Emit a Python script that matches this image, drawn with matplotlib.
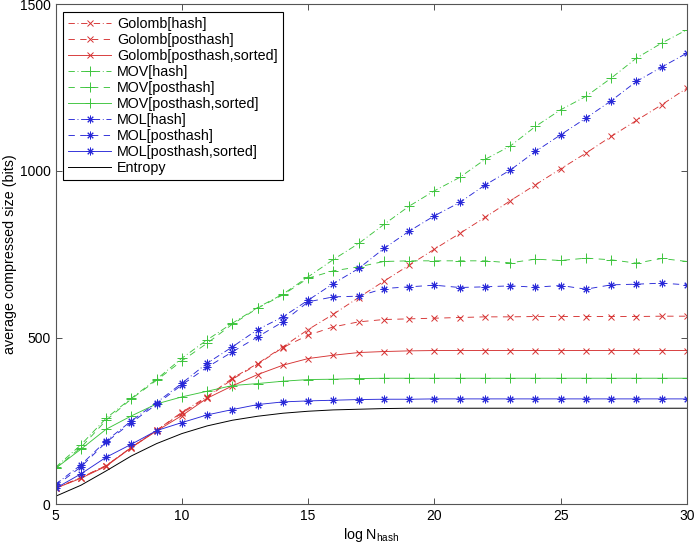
import matplotlib
matplotlib.use("Agg")
import matplotlib.pyplot as plt

plt.rcParams['font.family'] = ['Liberation Sans', 'DejaVu Sans']

x = list(range(5, 31))

golomb_hash = [48, 80, 116, 171, 222, 276, 323, 378, 422, 472, 524, 570, 620, 669, 717, 765,
               812, 860, 910, 958, 1006, 1053, 1103, 1151, 1198, 1248]
golomb_posthash = [48, 80, 116, 170, 222, 273, 320, 375, 420, 470, 507, 532, 547, 554, 556, 558,
                   560, 562, 562, 563, 563, 563, 563, 563, 564, 564]
golomb_sorted = [48, 78, 114, 170, 220, 266, 318, 355, 389, 417, 437, 447, 455, 458, 460, 461,
                 461, 461, 461, 461, 461, 461, 461, 461, 461, 461]
mov_hash = [111, 178, 258, 318, 375, 438, 493, 543, 590, 630, 682, 734, 782, 839, 894, 940,
            980, 1034, 1074, 1133, 1183, 1223, 1278, 1338, 1383, 1423]
mov_posthash = [108, 170, 252, 316, 372, 430, 483, 540, 588, 628, 678, 700, 712, 728, 730, 730,
                730, 730, 724, 735, 731, 738, 733, 723, 737, 728]
mov_sorted = [108, 165, 225, 265, 301, 322, 339, 356, 362, 369, 374, 375, 377, 378, 378, 378,
              378, 378, 378, 378, 378, 378, 378, 378, 378, 378]
mol_hash = [60, 118, 190, 250, 305, 363, 423, 472, 524, 562, 612, 662, 707, 767, 819, 865,
            905, 957, 1002, 1058, 1108, 1158, 1210, 1268, 1311, 1353]
mol_posthash = [55, 112, 186, 245, 300, 358, 411, 457, 502, 547, 607, 622, 624, 647, 652, 657,
                650, 652, 655, 651, 656, 645, 658, 660, 663, 658]
mol_sorted = [48, 91, 141, 180, 221, 245, 268, 284, 299, 307, 310, 312, 314, 315, 315, 316,
              316, 316, 316, 316, 316, 316, 316, 316, 316, 316]
entropy = [24, 57, 100, 145, 182, 212, 235, 252, 264, 273, 279, 283, 285, 287, 288, 288,
           288, 288, 288, 288, 288, 288, 288, 288, 288, 288]

red = '#d63232'
green = '#3cc43c'
blue = '#2828d8'

fig = plt.figure(figsize=(6.95, 5.43), dpi=100)
ax = fig.add_axes([0.08, 0.0713, 0.9085, 0.9213])

star = (8, 2, 0)
lw = 0.65
dashdot = (0, (7, 3, 1, 3))
dashed = (0, (7, 6))
series = [
    (golomb_hash, red, dashdot, 'x', 'Golomb[hash]', 4.6),
    (golomb_posthash, red, dashed, 'x', 'Golomb[posthash]', 4.6),
    (golomb_sorted, red, '-', 'x', 'Golomb[posthash,sorted]', 4.6),
    (mov_hash, green, dashdot, '+', 'MOV[hash]', 6.5),
    (mov_posthash, green, dashed, '+', 'MOV[posthash]', 6.5),
    (mov_sorted, green, '-', '+', 'MOV[posthash,sorted]', 6.5),
    (mol_hash, blue, dashdot, star, 'MOL[hash]', 5.5),
    (mol_posthash, blue, dashed, star, 'MOL[posthash]', 5.5),
    (mol_sorted, blue, '-', star, 'MOL[posthash,sorted]', 5.5),
]
for ys, c, ls, m, lab, ms in series:
    ax.plot(x, ys, color=c, linestyle=ls, linewidth=lw, marker=m, markersize=ms,
            markeredgewidth=0.7, label=lab)
ax.plot(x, entropy, color='black', linewidth=0.7, label='Entropy')

ax.set_xlim(5, 30)
ax.set_ylim(0, 1500)
ax.set_xticks([5, 10, 15, 20, 25, 30])
ax.set_yticks([0, 500, 1000, 1500])
ax.tick_params(direction='in', top=True, right=True, labelsize=10, length=4, width=0.6,
               colors='#333333', labelcolor='black')
for s in ax.spines.values():
    s.set_color('#555555')
    s.set_linewidth(0.8)

ax.set_xlabel('log N$_\\mathregular{hash}$', fontsize=10.3, labelpad=2)
ax.set_ylabel('average compressed size (bits)', fontsize=10.3, labelpad=2)

leg = ax.legend(loc='upper left', fontsize=10.3, handlelength=3.0, handletextpad=0.4,
                labelspacing=0.14, borderpad=0.35, borderaxespad=0.55, fancybox=False,
                framealpha=1, edgecolor='black')
leg.get_frame().set_linewidth(0.8)

fig.savefig('out.png', dpi=100)
